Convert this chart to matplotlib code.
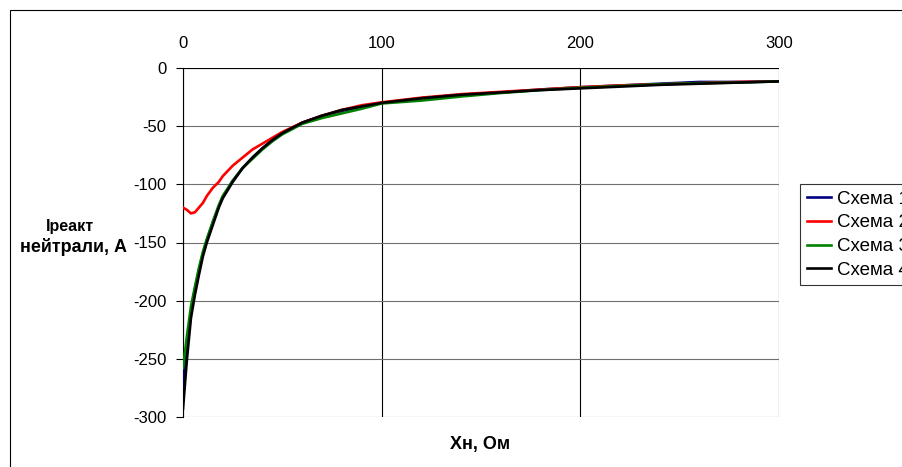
import matplotlib
matplotlib.use("Agg")
import matplotlib.pyplot as plt
from matplotlib.patches import Rectangle

plt.rcParams["font.family"] = ["Liberation Sans", "DejaVu Sans"]
plt.rcParams["axes.unicode_minus"] = False

x_ohm = [0, 2, 4, 6, 8, 10, 12, 15, 18, 20, 25, 30, 35, 40, 45, 50, 60, 70, 80, 90,
         100, 120, 140, 160, 180, 200, 220, 240, 260, 280, 300]

scheme1 = [-275, -240, -210, -190, -174, -160, -148, -133, -119, -111, -97, -86, -77, -69, -62, -56,
           -47, -41, -37, -33, -30, -26, -23, -21, -18.5, -16.5, -15, -13.5, -12, -12, -11.5]
scheme2 = [-120, -122, -125, -124, -120, -116, -110, -103, -98, -93, -84, -77, -70, -65, -60, -55,
           -47, -41, -36, -32, -29.5, -25.5, -22.5, -20.5, -18.5, -16.5, -15, -14, -13, -12, -11.5]
scheme3 = [-258, -230, -205, -188, -172, -158, -147, -132, -118, -110, -97, -86, -78, -70, -63, -57,
           -48, -43, -39, -35, -30.5, -28, -24.5, -21.5, -19, -17, -15.5, -14, -13, -12.5, -11.5]
scheme4 = [-293, -250, -215, -195, -178, -162, -150, -135, -120, -112, -98, -86, -77, -69, -62, -56,
           -47, -41, -36, -33, -30, -26, -23, -21, -19, -17.5, -16, -14.5, -13.5, -12.5, -11.5]

series = [("Схема 1", scheme1, "#000080"),
          ("Схема 2", scheme2, "#ff0000"),
          ("Схема 3", scheme3, "#008000"),
          ("Схема 4", scheme4, "#000000")]

fig = plt.figure(figsize=(9.03, 4.67), dpi=100)
# внешняя рамка области диаграммы (обрезана справа и снизу)
fig.patches.append(Rectangle((10 / 903, -0.1), 1.2, 1 - 10 / 467 + 0.1,
                             transform=fig.transFigure, fill=False,
                             edgecolor="black", linewidth=0.8))

ax = fig.add_axes([183 / 903, 1 - 417 / 467, (779 - 183) / 903, (417 - 68) / 467])
for name, vals, col in series:
    ax.plot(x_ohm, vals, color=col, linewidth=1.9, label=name, zorder=3)

ax.set_xlim(0, 300)
ax.set_ylim(-300, 0)
ax.set_xticks([0, 100, 200, 300])
ax.set_yticks(range(-300, 1, 50))
ax.xaxis.tick_top()
ax.tick_params(axis="y", direction="out", length=5, width=0.8, labelsize=12, pad=7)
ax.tick_params(axis="x", length=0, pad=12, labelsize=12)
for s in ("top", "right", "bottom"):
    ax.spines[s].set_visible(False)
ax.spines["left"].set_linewidth(0.8)
ax.grid(True, axis="y", color="#707070", linewidth=0.8)
ax.grid(True, axis="x", color="black", linewidth=0.8)
ax.axhline(0, color="black", linewidth=0.8, zorder=2)
ax.set_axisbelow(True)

fig.text(70 / 903, 1 - 227 / 467, "Iреакт", fontsize=11.5, fontweight="bold",
         ha="center", va="center")
fig.text(73 / 903, 1 - 247 / 467, "нейтрали, А", fontsize=13, fontweight="bold",
         ha="center", va="center")
fig.text(480 / 903, 1 - 445 / 467, "Xн, Ом", fontsize=13, fontweight="bold",
         ha="center", va="center")

leg = fig.legend(loc="upper left", bbox_to_anchor=(800 / 903, 1 - 184 / 467),
                 fontsize=13.5, frameon=True, fancybox=False, handlelength=1.3,
                 borderpad=0.35, labelspacing=0.35, handletextpad=0.3,
                 borderaxespad=0)
leg.get_frame().set_edgecolor("black")
leg.get_frame().set_linewidth(0.8)

fig.savefig("out.png", dpi=100)
